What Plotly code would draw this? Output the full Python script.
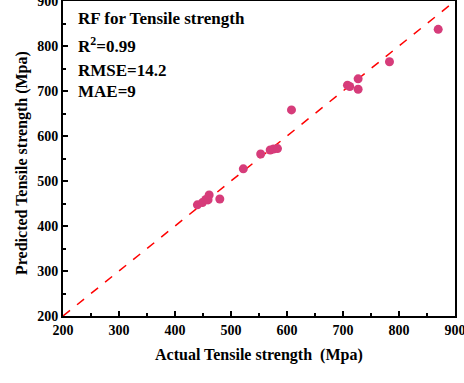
import plotly.graph_objects as go

actual = [440, 449, 455, 459, 461, 480, 522, 553, 570, 576, 583, 608, 708, 712, 727, 727, 783, 870]
predicted = [447, 452, 459, 458, 469, 460, 527, 560, 569, 571, 572, 658, 713, 710, 727, 704, 765, 837]
line_xy = [200, 900]
annot_lines = ["RF for Tensile strength", "R<sup>2</sup>=0.99", "RMSE=14.2", "MAE=9"]
x_ticks = [200, 300, 400, 500, 600, 700, 800, 900]
y_ticks = [200, 300, 400, 500, 600, 700, 800, 900]
x_title = "Actual Tensile strength  (Mpa)"
y_title = "Predicted Tensile strength (Mpa)"

FONT = "Liberation Serif, Times New Roman, serif"
L, R, T, B = 63, 9, 1, 67
W, H = 464, 383
PW, PH = W - L - R, H - T - B

fig = go.Figure()
fig.add_trace(go.Scatter(x=line_xy, y=line_xy, mode="lines",
                         line=dict(color="#ff0000", width=1.5, dash="dash"),
                         showlegend=False, hoverinfo="skip"))
fig.add_trace(go.Scatter(x=actual, y=predicted, mode="markers",
                         marker=dict(color="#d63c7a", size=9, line=dict(width=0)),
                         showlegend=False))

annot_y = [18, 45, 70, 92]
for txt, py in zip(annot_lines, annot_y):
    fig.add_annotation(text=f"<b>{txt}</b>", xref="paper", yref="paper",
                       x=(76 - L) / PW, y=1 - (py - T) / PH,
                       xanchor="left", yanchor="middle", showarrow=False,
                       font=dict(family=FONT, size=17, color="black"))

fig.add_annotation(text=f"<b>{x_title}</b>", xref="paper", yref="paper",
                   x=(259 - L) / PW, y=-(355 - (H - B)) / PH,
                   xanchor="center", yanchor="middle", showarrow=False,
                   font=dict(family=FONT, size=16, color="black"))
fig.add_annotation(text=f"<b>{y_title}</b>", xref="paper", yref="paper",
                   x=-(L - 22) / PW, y=1 - (163 - T) / PH, textangle=-90,
                   xanchor="center", yanchor="middle", showarrow=False,
                   font=dict(family=FONT, size=16, color="black"))

axis_common = dict(showline=True, linecolor="black", linewidth=2, mirror=True,
                   ticks="inside", ticklen=5, tickwidth=1.5, tickcolor="black",
                   showgrid=False, zeroline=False, automargin=False,
                   ticklabeloverflow="allow",
                   tickfont=dict(family=FONT, size=14, color="black"),
                   minor=dict(ticks="inside", ticklen=3, tickwidth=1.5, dtick=50, tickcolor="black"))

fig.update_xaxes(range=[200, 900], tickvals=x_ticks,
                 ticktext=[f"<b>{v}</b>" for v in x_ticks], **axis_common)
fig.update_yaxes(range=[200, 900], tickvals=y_ticks,
                 ticktext=[f"<b>{v}</b>" for v in y_ticks], **axis_common)

fig.update_layout(width=W, height=H, margin=dict(l=L, r=R, t=T, b=B),
                  plot_bgcolor="white", paper_bgcolor="white")

fig.write_html("out.html", config={"displayModeBar": False},
               post_script="document.body.style.margin='0';")
